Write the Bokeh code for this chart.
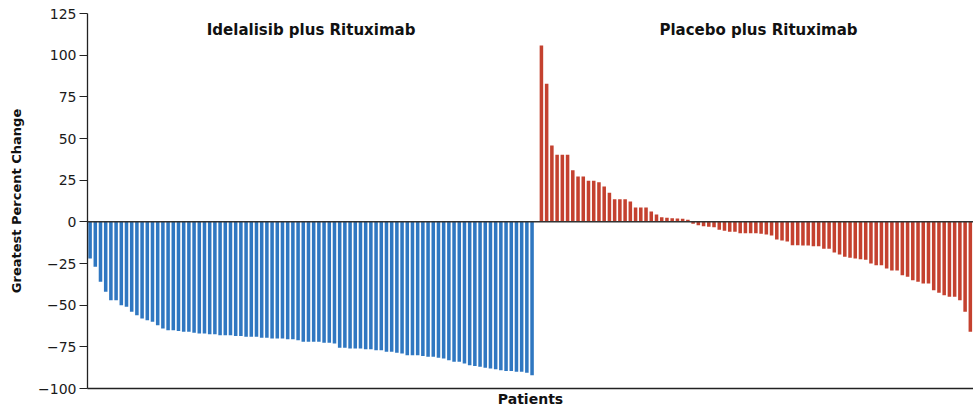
from bokeh.plotting import figure
from bokeh.models import ColumnDataSource, Range1d, FixedTicker, Span, Label
from bokeh.embed import file_html
from bokeh.resources import INLINE

# ---- data ----
idelalisib = [
    -22, -27, -36, -42, -47, -47, -50, -51, -54, -56, -58, -59, -60, -62, -64, -65, -65,
    -65.5, -66, -66, -66.5, -67, -67, -67.5, -67.5, -68, -68, -68, -68.5, -68.5, -69,
    -69, -69, -69.5, -69.5, -70, -70, -70, -70.5, -70.5, -71, -72, -72,
    -72, -72, -72.5, -72.5, -73,
    -75.5, -75.5, -76, -76, -76, -76.5, -76.5, -77, -77,
    -78, -78, -78.5, -79, -80, -80, -80, -80.5, -81, -81, -81.5, -82, -83, -84, -84,
    -85, -86, -86.5, -87, -87.5, -88, -88.5, -89, -89.5, -89.5, -90, -90, -90.5, -92,
]
placebo = [
    105.8, 82.8, 45.8, 40.2, 40.2, 40.2, 31, 27.2, 27.2, 24.6, 24.6, 23.8, 21.2, 17.4,
    13.6, 13.6, 13.6, 12.2, 8.6, 8.6, 8.6, 6.2, 4.4, 2.8, 2.5, 2.2, 2.0, 1.8, 1.2,
    -1.2, -2, -2.6, -2.9, -3.2, -4.8, -5.4, -6, -6, -6.8, -6.8, -6.8, -6.8, -7.2, -7.6,
    -8.2, -10.6, -11.2, -11.8, -14, -14, -14.2, -14.2, -14.6, -14.6, -16.2, -16.2,
    -18.4, -19.6, -21, -21.5, -22, -22.5, -22.8, -25, -26, -26, -28, -29.2, -29.2,
    -32, -33, -35, -36, -37, -37, -41, -42.6, -44, -45, -45, -47, -54, -66,
]
group_titles = ["Idelalisib plus Rituximab", "Placebo plus Rituximab"]
y_ticks = [-100, -75, -50, -25, 0, 25, 50, 75, 100, 125]

BLUE = "#2f77c1"
RED = "#c4412f"
AXIS = "#222222"
FONT = "DejaVu Sans"

n_b = len(idelalisib)
n_r = len(placebo)
xb = list(range(n_b))
xr = [n_b + 0.8 + j * 1.006 for j in range(n_r)]

p = figure(width=973, height=419, output_backend="svg", toolbar_location=None,
           x_range=Range1d(-0.5, 169.9), y_range=Range1d(-100, 125),
           min_border_left=87, min_border_top=13, min_border_bottom=31, min_border_right=0)
p.background_fill_color = "white"
p.border_fill_color = "white"
p.outline_line_color = None
p.xgrid.visible = False
p.ygrid.visible = False

src_b = ColumnDataSource(dict(x=xb, top=idelalisib))
src_r = ColumnDataSource(dict(x=xr, top=placebo))
p.vbar(x="x", top="top", bottom=0, width=0.68, source=src_b,
       fill_color=BLUE, line_color=None)
p.vbar(x="x", top="top", bottom=0, width=0.68, source=src_r,
       fill_color=RED, line_color=None)

p.add_layout(Span(location=0, dimension="width", line_color="#333333", line_width=1.5))

# y axis
p.yaxis.ticker = FixedTicker(ticks=y_ticks)
p.yaxis.major_label_overrides = {t: (str(t).replace("-", "\u2212")) for t in y_ticks}
p.yaxis.minor_tick_line_color = None
p.yaxis.major_tick_out = 8
p.yaxis.major_tick_in = 0
p.yaxis.major_tick_line_color = AXIS
p.yaxis.axis_line_color = AXIS
p.yaxis.axis_line_width = 1.3
p.yaxis.major_label_text_font = FONT
p.yaxis.major_label_text_font_size = "14px"
p.yaxis.major_label_text_color = "#1a1a1a"
p.yaxis.major_label_standoff = 3
p.yaxis.axis_label = "Greatest Percent Change"
p.yaxis.axis_label_text_font = FONT
p.yaxis.axis_label_text_font_style = "bold"
p.yaxis.axis_label_text_font_size = "13px"
p.yaxis.axis_label_text_color = "#111111"
p.yaxis.axis_label_standoff = 11

# x axis
p.xaxis.ticker = FixedTicker(ticks=[])
p.xaxis.major_label_text_font_size = "0px"
p.xaxis.major_tick_line_color = None
p.xaxis.minor_tick_line_color = None
p.xaxis.axis_line_color = AXIS
p.xaxis.axis_line_width = 1.3
p.xaxis.axis_label = "Patients"
p.xaxis.axis_label_text_font = FONT
p.xaxis.axis_label_text_font_style = "bold"
p.xaxis.axis_label_text_font_size = "14px"
p.xaxis.axis_label_text_color = "#111111"
p.xaxis.axis_label_standoff = 2

# group titles
centers = [(xb[0] + xb[-1]) / 2, (xr[0] + xr[-1]) / 2 + 0.5]
for t, cx in zip(group_titles, centers):
    p.add_layout(Label(x=cx, y=115, text=t, text_align="center", text_baseline="middle",
                       text_font=FONT, text_font_style="bold", text_font_size="15px",
                       text_color="#111111"))

open("out.html", "w").write(file_html(p, INLINE))
